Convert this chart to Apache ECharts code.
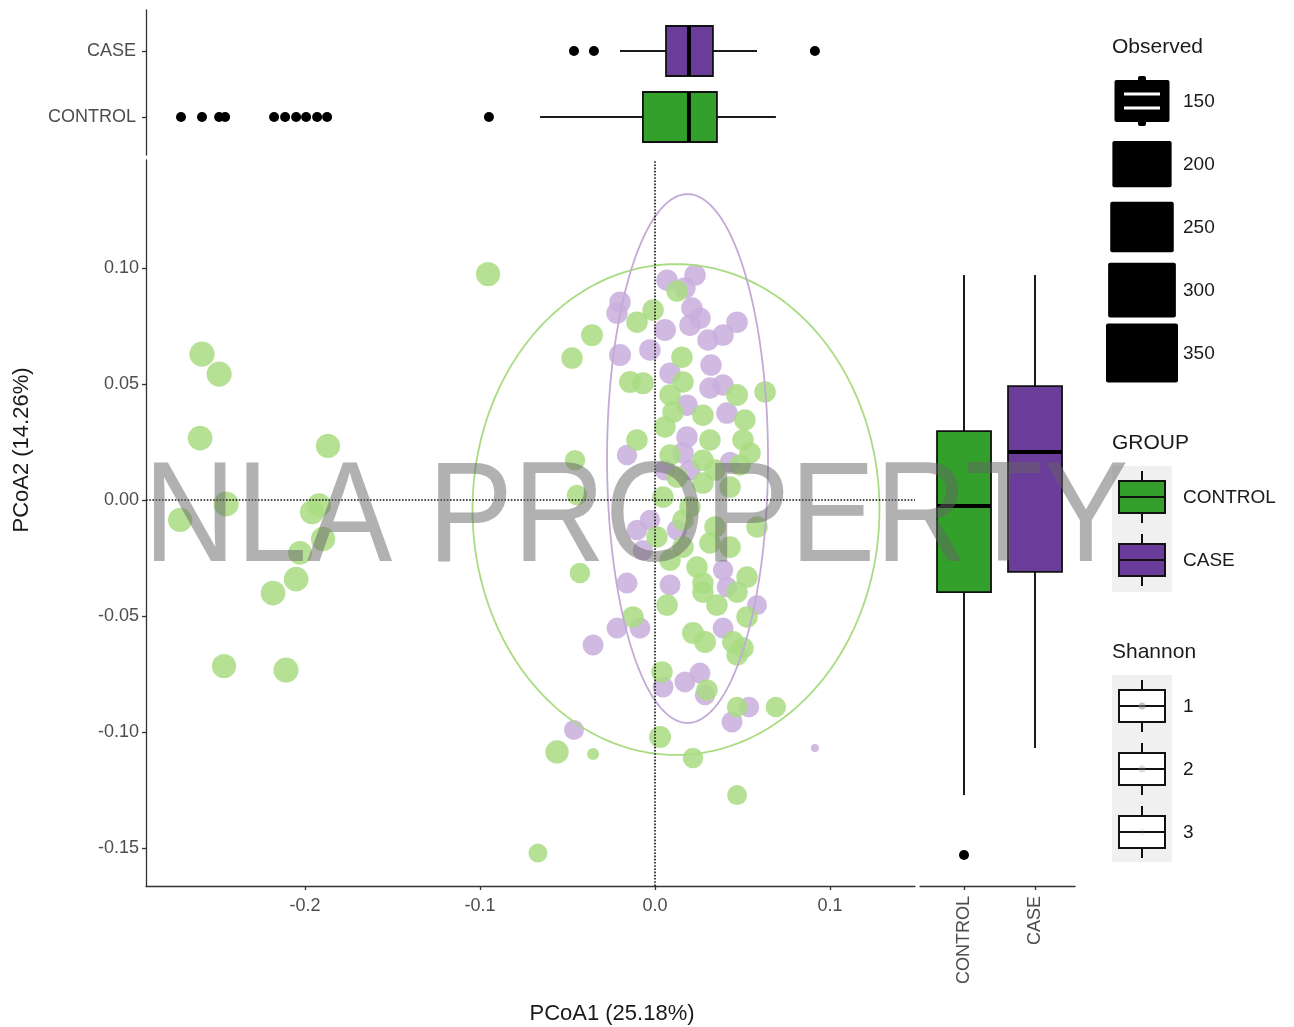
<!DOCTYPE html>
<html>
<head>
<meta charset="utf-8">
<title>PCoA</title>
<script src="https://cdn.jsdelivr.net/npm/echarts@6/dist/echarts.min.js"></script>
<style>
  html, body { margin: 0; padding: 0; background: #fff; }
  #chart { width: 1294px; height: 1027px; }
</style>
</head>
<body>
<div id="chart"></div>
<script>
// ---- data ---------------------------------------------------------------
const groups = ['CONTROL', 'CASE'];

// samples: [PCoA1, PCoA2, Observed]
const controlPoints = [
  [-0.0954, 0.0974, 280], [-0.2589, 0.0629, 300], [-0.2491, 0.0543, 300],
  [-0.2600, 0.0267, 290], [-0.1869, 0.0233, 280], [-0.2451, -0.0017, 300],
  [-0.2714, -0.0086, 280], [-0.1960, -0.0052, 280], [-0.1920, -0.0022, 270],
  [-0.1897, -0.0168, 280], [-0.2029, -0.0228, 270], [-0.2051, -0.0341, 290],
  [-0.2183, -0.0401, 290], [-0.2463, -0.0716, 280], [-0.2109, -0.0733, 300],
  [0.0126, 0.0901, 220], [-0.0011, 0.0819, 220], [-0.0103, 0.0767, 220],
  [-0.0360, 0.0711, 230], [-0.0474, 0.0612, 220], [0.0154, 0.0616, 220],
  [-0.0143, 0.0509, 230], [-0.0069, 0.0504, 230], [0.0629, 0.0466, 220],
  [0.0469, 0.0453, 230], [0.0160, 0.0509, 220], [0.0086, 0.0453, 220],
  [0.0274, 0.0366, 220], [0.0103, 0.0379, 220], [-0.0103, 0.0259, 220],
  [-0.0457, 0.0172, 200], [-0.0446, 0.0022, 200], [0.0057, 0.0315, 220],
  [0.0314, 0.0259, 220], [0.0503, 0.0259, 220], [0.0543, 0.0203, 220],
  [0.0274, 0.0172, 220], [0.0126, 0.0099, 220], [0.0274, 0.0073, 220],
  [0.0429, 0.0056, 220], [0.0046, 0.0013, 220], [0.0200, -0.0030, 220],
  [0.0160, -0.0086, 220], [0.0583, -0.0116, 220], [0.0011, -0.0159, 220],
  [0.0160, -0.0203, 220], [0.0314, -0.0185, 220], [0.0429, -0.0203, 220],
  [0.0086, -0.0259, 220], [0.0240, -0.0289, 220], [0.0526, -0.0332, 220],
  [-0.0429, -0.0315, 200], [0.0274, -0.0358, 220], [0.0069, -0.0453, 220],
  [0.0274, -0.0397, 220], [0.0354, -0.0453, 220], [0.0469, -0.0397, 220],
  [0.0526, -0.0504, 220], [-0.0126, -0.0504, 220], [0.0217, -0.0573, 230],
  [0.0286, -0.0612, 230], [0.0446, -0.0612, 230], [0.0503, -0.0638, 220],
  [0.0469, -0.0668, 220], [0.0040, -0.0741, 220], [0.0297, -0.0819, 220],
  [0.0469, -0.0892, 200], [0.0691, -0.0892, 200], [-0.0560, -0.1086, 260],
  [-0.0354, -0.1095, 70], [0.0029, -0.1022, 230], [0.0217, -0.1112, 200],
  [0.0469, -0.1272, 190], [-0.0669, -0.1522, 170], [0.0514, 0.0345, 220],
  [0.0086, 0.0194, 220], [0.0343, 0.0129, 220], [0.0486, 0.0151, 220],
  [0.0343, -0.0116, 220]
];

const casePoints = [
  [0.0069, 0.0948, 220], [0.0229, 0.0970, 220], [0.0171, 0.0914, 220],
  [-0.0200, 0.0853, 220], [-0.0217, 0.0806, 220], [0.0057, 0.0733, 230],
  [0.0211, 0.0828, 220], [0.0257, 0.0784, 220], [0.0200, 0.0754, 220],
  [0.0469, 0.0767, 220], [0.0389, 0.0711, 220], [0.0303, 0.0690, 220],
  [-0.0200, 0.0625, 230], [-0.0029, 0.0647, 220], [0.0320, 0.0582, 220],
  [0.0086, 0.0547, 220], [0.0314, 0.0483, 220], [0.0389, 0.0496, 220],
  [0.0183, 0.0409, 220], [0.0411, 0.0375, 220], [-0.0160, 0.0194, 200],
  [0.0183, 0.0272, 220], [0.0160, 0.0203, 220], [0.0429, 0.0164, 200],
  [-0.0029, -0.0086, 200], [0.0126, -0.0129, 200], [-0.0103, -0.0129, 200],
  [-0.0069, -0.0216, 200], [0.0389, -0.0302, 200], [-0.0160, -0.0358, 210],
  [0.0086, -0.0366, 210], [0.0411, -0.0375, 200], [0.0583, -0.0453, 190],
  [-0.0217, -0.0552, 210], [-0.0086, -0.0552, 210], [-0.0354, -0.0625, 210],
  [0.0389, -0.0552, 210], [0.0046, -0.0806, 210], [0.0171, -0.0784, 210],
  [0.0257, -0.0746, 210], [0.0286, -0.0841, 200], [0.0537, -0.0892, 200],
  [0.0440, -0.0957, 210], [-0.0463, -0.0991, 190], [0.0914, -0.1069, 30],
  [0.0057, 0.0129, 210], [0.0200, 0.0129, 210]
];

// marginal box statistics: [lower whisker, Q1, median, Q3, upper whisker]
const pcoa1BoxControl = [-0.0657, -0.0069, 0.0194, 0.0354, 0.0691];
const pcoa1BoxCase = [-0.0200, 0.0063, 0.0194, 0.0331, 0.0583];
const pcoa1OutliersControl = [-0.2709, -0.2589, -0.2491, -0.2457, -0.2177, -0.2114,
  -0.2051, -0.1994, -0.1931, -0.1874, -0.0949];
const pcoa1OutliersCase = [-0.0463, -0.0349, 0.0914];
const pcoa2BoxControl = [-0.1272, -0.0397, -0.0026, 0.0297, 0.0970];
const pcoa2BoxCase = [-0.1069, -0.0310, 0.0207, 0.0491, 0.0970];
const pcoa2OutliersControl = [-0.1530];

// confidence ellipses: [centre x, centre y, radius x, radius y]
const ellipseControl = [0.0120, -0.0041, 0.1163, 0.1058];
const ellipseCase = [0.0186, 0.0179, 0.0460, 0.1140];

// axes
const xTicks = [-0.2, -0.1, 0.0, 0.1];
const yTicks = [-0.15, -0.10, -0.05, 0.00, 0.05, 0.10];
const xRange = [-0.2909, 0.1486];
const yRange = [-0.1664, 0.1466];

// legend keys
const observedLevels = [150, 200, 250, 300, 350];
const shannonLevels = [1, 2, 3];

// ---- styling ------------------------------------------------------------
const FONT = 'Liberation Sans, Arial, Helvetica, sans-serif';
const BOX_FILL = { CONTROL: '#33a02c', CASE: '#6a3d9a' };
const POINT_FILL = { CONTROL: '#a9dc82', CASE: '#c8aedd' };
const LINE_COL = { CONTROL: '#a9dc82', CASE: '#c3aad6' };
const AXIS_COL = '#333333';
const LABEL_COL = '#4d4d4d';

function ellipsePoints(e) {
  const pts = [];
  const n = 200;
  for (let i = 0; i <= n; i++) {
    const t = (i / n) * Math.PI * 2;
    pts.push([e[0] + e[2] * Math.cos(t), e[1] + e[3] * Math.sin(t)]);
  }
  return pts;
}

const pointSize = v => Math.sqrt(v[2]) * 1.45;

// a single box-and-whisker glyph, horizontal or vertical
function boxRenderer(horizontal, halfWidth) {
  return function (params, api) {
    const pos = api.value(0);
    const vals = [api.value(1), api.value(2), api.value(3), api.value(4), api.value(5)];
    const fill = api.visual('color');
    const p = v => horizontal ? api.coord([v, pos]) : api.coord([pos, v]);
    const pts = vals.map(p);
    const children = [];
    const lineStyle = { stroke: '#1a1a1a', lineWidth: 2 };
    if (horizontal) {
      const c = pts[0][1];
      children.push({ type: 'line', shape: { x1: pts[0][0], y1: c, x2: pts[1][0], y2: c }, style: lineStyle });
      children.push({ type: 'line', shape: { x1: pts[3][0], y1: c, x2: pts[4][0], y2: c }, style: lineStyle });
      children.push({ type: 'rect', shape: { x: pts[1][0], y: c - halfWidth, width: pts[3][0] - pts[1][0], height: halfWidth * 2 },
        style: { fill: fill, stroke: '#111', lineWidth: 1.8 } });
      children.push({ type: 'line', shape: { x1: pts[2][0], y1: c - halfWidth, x2: pts[2][0], y2: c + halfWidth },
        style: { stroke: '#000', lineWidth: 4 } });
    } else {
      const c = pts[0][0];
      children.push({ type: 'line', shape: { x1: c, y1: pts[0][1], x2: c, y2: pts[1][1] }, style: lineStyle });
      children.push({ type: 'line', shape: { x1: c, y1: pts[3][1], x2: c, y2: pts[4][1] }, style: lineStyle });
      children.push({ type: 'rect', shape: { x: c - halfWidth, y: pts[3][1], width: halfWidth * 2, height: pts[1][1] - pts[3][1] },
        style: { fill: fill, stroke: '#111', lineWidth: 1.8 } });
      children.push({ type: 'line', shape: { x1: c - halfWidth, y1: pts[2][1], x2: c + halfWidth, y2: pts[2][1] },
        style: { stroke: '#000', lineWidth: 4 } });
    }
    return { type: 'group', children: children };
  };
}

// ---- legend graphics ----------------------------------------------------
const legendX = 1112;
const keyCx = 1142;
const labelX = 1183;
const graphics = [];

function addText(x, y, text, size, align) {
  graphics.push({
    type: 'text', x: x, y: y, z: 50,
    style: { text: text, font: size + 'px ' + FONT, fill: '#1a1a1a', align: align || 'left', verticalAlign: 'middle' }
  });
}

addText(legendX, 47, 'Observed', 21);
observedLevels.forEach((lvl, i) => {
  const cy = 101 + i * 63;
  const w = 55 + (lvl - 150) * 0.085;
  const h = 42 + (lvl - 150) * 0.085;
  graphics.push({ type: 'rect', z: 50, shape: { x: keyCx - w / 2, y: cy - h / 2, width: w, height: h, r: 2 },
    style: { fill: '#000' } });
  if (i === 0) {
    graphics.push({ type: 'rect', z: 50, shape: { x: keyCx - 4, y: cy - h / 2 - 4, width: 8, height: h + 8, r: 2 }, style: { fill: '#000' } });
    graphics.push({ type: 'line', z: 51, shape: { x1: keyCx - 18, y1: cy - 7, x2: keyCx + 18, y2: cy - 7 }, style: { stroke: '#fff', lineWidth: 3 } });
    graphics.push({ type: 'line', z: 51, shape: { x1: keyCx - 18, y1: cy + 7, x2: keyCx + 18, y2: cy + 7 }, style: { stroke: '#fff', lineWidth: 3 } });
  }
  addText(labelX, cy + 1, String(lvl), 19);
});

function boxKey(cy, fill, stroke) {
  graphics.push({ type: 'line', z: 50, shape: { x1: keyCx, y1: cy - 26, x2: keyCx, y2: cy + 26 }, style: { stroke: stroke, lineWidth: 2 } });
  graphics.push({ type: 'rect', z: 51, shape: { x: keyCx - 23, y: cy - 16, width: 46, height: 32 }, style: { fill: fill, stroke: stroke, lineWidth: 2 } });
  graphics.push({ type: 'line', z: 52, shape: { x1: keyCx - 23, y1: cy, x2: keyCx + 23, y2: cy }, style: { stroke: stroke, lineWidth: 2 } });
}

addText(legendX, 443, 'GROUP', 21);
graphics.push({ type: 'rect', z: 49, shape: { x: legendX, y: 466, width: 60, height: 126 }, style: { fill: '#f0f0f0' } });
groups.forEach((g, i) => {
  const cy = 497 + i * 63;
  boxKey(cy, BOX_FILL[g], '#111');
  addText(labelX, cy + 1, g, 19);
});

addText(legendX, 652, 'Shannon', 21);
graphics.push({ type: 'rect', z: 49, shape: { x: legendX, y: 675, width: 60, height: 187 }, style: { fill: '#f0f0f0' } });
shannonLevels.forEach((lvl, i) => {
  const cy = 706 + i * 63;
  boxKey(cy, '#fff', '#111');
  graphics.push({ type: 'circle', z: 53, shape: { cx: keyCx, cy: cy, r: 3.5 },
    style: { fill: 'rgba(140,140,140,' + (0.5 - i * 0.2) + ')' } });
  addText(labelX, cy + 1, String(lvl), 19);
});

// axis titles
addText(612, 1014, 'PCoA1 (25.18%)', 22, 'center');
graphics.push({ type: 'text', x: 22, y: 450, rotation: Math.PI / 2, z: 50,
  style: { text: 'PCoA2 (14.26%)', font: '22px ' + FONT, fill: '#1a1a1a', align: 'center', verticalAlign: 'middle' } });

// watermark
graphics.push({ type: 'text', x: 636, y: 522, z: 200, scaleX: 0.9, silent: true,
  style: { text: 'NLA PROPERTY', font: '142px ' + FONT, fill: 'rgba(100,100,100,0.5)', align: 'center', verticalAlign: 'middle' } });

// ---- chart --------------------------------------------------------------
const axisLineStyle = { show: true, onZero: false, lineStyle: { color: AXIS_COL, width: 1.3 } };
const tickStyle = { show: true, length: 4, lineStyle: { color: AXIS_COL, width: 1.3 } };
const labelStyle = { color: LABEL_COL, fontSize: 18, fontFamily: FONT };

const option = {
  backgroundColor: '#fff',
  animation: false,
  grid: [
    { left: 146, top: 160, width: 769, height: 726, outerBoundsMode: 'none' },
    { left: 146, top: 10, width: 769, height: 145, outerBoundsMode: 'none' },
    { left: 920, top: 160, width: 155, height: 726, outerBoundsMode: 'none' }
  ],
  xAxis: [
    { type: 'value', gridIndex: 0, min: xRange[0], max: xRange[1], splitLine: { show: false },
      axisLine: axisLineStyle, axisTick: Object.assign({ customValues: xTicks }, tickStyle),
      axisLabel: Object.assign({ customValues: xTicks, margin: 11, formatter: v => v.toFixed(1) }, labelStyle) },
    { type: 'value', gridIndex: 1, min: xRange[0], max: xRange[1], show: false },
    { type: 'value', gridIndex: 2, min: 0.380, max: 2.563, splitLine: { show: false },
      axisLine: axisLineStyle, axisTick: Object.assign({ customValues: [1, 2] }, tickStyle),
      axisLabel: Object.assign({ customValues: [1, 2], rotate: 90, margin: 10,
        formatter: v => groups[Math.round(v) - 1] }, labelStyle) }
  ],
  yAxis: [
    { type: 'value', gridIndex: 0, min: yRange[0], max: yRange[1], splitLine: { show: false },
      axisLine: axisLineStyle, axisTick: Object.assign({ customValues: yTicks }, tickStyle),
      axisLabel: Object.assign({ customValues: yTicks, margin: 7, formatter: v => v.toFixed(2) }, labelStyle) },
    { type: 'value', gridIndex: 1, min: 0.424, max: 2.621, splitLine: { show: false },
      axisLine: axisLineStyle, axisTick: Object.assign({ customValues: [1, 2] }, tickStyle),
      axisLabel: Object.assign({ customValues: [1, 2], margin: 10,
        formatter: v => groups[Math.round(v) - 1] }, labelStyle) },
    { type: 'value', gridIndex: 2, min: yRange[0], max: yRange[1], show: false }
  ],
  graphic: graphics,
  series: [
    { name: 'CASE', type: 'scatter', xAxisIndex: 0, yAxisIndex: 0, z: 2,
      data: casePoints, symbolSize: pointSize,
      itemStyle: { color: POINT_FILL.CASE, opacity: 0.85 } },
    { name: 'CONTROL', type: 'scatter', xAxisIndex: 0, yAxisIndex: 0, z: 3,
      data: controlPoints, symbolSize: pointSize,
      itemStyle: { color: POINT_FILL.CONTROL, opacity: 0.85 } },
    { name: 'ellipse CONTROL', type: 'line', xAxisIndex: 0, yAxisIndex: 0, z: 4,
      data: ellipsePoints(ellipseControl), showSymbol: false, symbol: 'none', silent: true,
      lineStyle: { color: LINE_COL.CONTROL, width: 1.8 } },
    { name: 'ellipse CASE', type: 'line', xAxisIndex: 0, yAxisIndex: 0, z: 4,
      data: ellipsePoints(ellipseCase), showSymbol: false, symbol: 'none', silent: true,
      lineStyle: { color: LINE_COL.CASE, width: 1.8 } },
    { name: 'zero lines', type: 'line', xAxisIndex: 0, yAxisIndex: 0, z: 5, data: [],
      markLine: { silent: true, symbol: 'none', label: { show: false },
        lineStyle: { color: '#111', type: 'dotted', width: 1.6 },
        data: [{ xAxis: 0 }, { yAxis: 0 }] } },
    { name: 'PCoA1 box', type: 'custom', xAxisIndex: 1, yAxisIndex: 1, z: 3,
      renderItem: boxRenderer(true, 25),
      encode: { x: [1, 2, 3, 4, 5], y: 0 },
      data: [
        { value: [1].concat(pcoa1BoxControl), itemStyle: { color: BOX_FILL.CONTROL } },
        { value: [2].concat(pcoa1BoxCase), itemStyle: { color: BOX_FILL.CASE } }
      ] },
    { name: 'PCoA1 outliers', type: 'scatter', xAxisIndex: 1, yAxisIndex: 1, z: 4,
      symbolSize: 10, itemStyle: { color: '#000', opacity: 1 },
      data: pcoa1OutliersControl.map(v => [v, 1]).concat(pcoa1OutliersCase.map(v => [v, 2])) },
    { name: 'PCoA2 box', type: 'custom', xAxisIndex: 2, yAxisIndex: 2, z: 3,
      renderItem: boxRenderer(false, 27),
      encode: { x: 0, y: [1, 2, 3, 4, 5] },
      data: [
        { value: [1].concat(pcoa2BoxControl), itemStyle: { color: BOX_FILL.CONTROL } },
        { value: [2].concat(pcoa2BoxCase), itemStyle: { color: BOX_FILL.CASE } }
      ] },
    { name: 'PCoA2 outliers', type: 'scatter', xAxisIndex: 2, yAxisIndex: 2, z: 4,
      symbolSize: 10, itemStyle: { color: '#000', opacity: 1 },
      data: pcoa2OutliersControl.map(v => [1, v]) }
  ]
};

const chart = echarts.init(document.getElementById('chart'), null, { renderer: 'canvas' });
chart.setOption(option);
</script>
</body>
</html>
